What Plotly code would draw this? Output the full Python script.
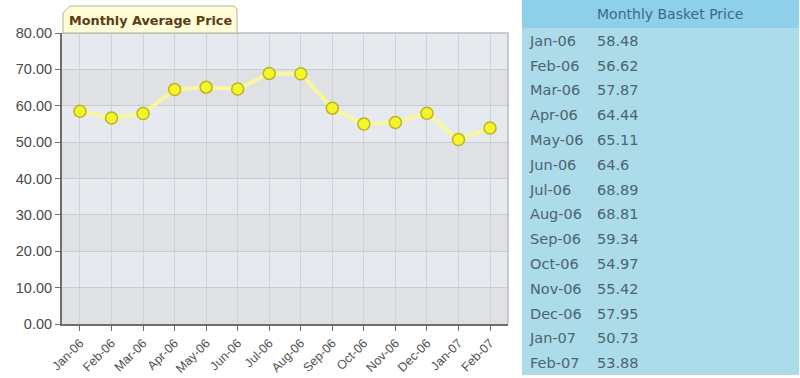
import plotly.graph_objects as go

months = ["Jan-06", "Feb-06", "Mar-06", "Apr-06", "May-06", "Jun-06", "Jul-06",
          "Aug-06", "Sep-06", "Oct-06", "Nov-06", "Dec-06", "Jan-07", "Feb-07"]
prices = [58.48, 56.62, 57.87, 64.44, 65.11, 64.6, 68.89,
          68.81, 59.34, 54.97, 55.42, 57.95, 50.73, 53.88]
price_labels = ["58.48", "56.62", "57.87", "64.44", "65.11", "64.6", "68.89",
                "68.81", "59.34", "54.97", "55.42", "57.95", "50.73", "53.88"]
y_ticks = [0, 10, 20, 30, 40, 50, 60, 70, 80]

W, H = 800, 378


def px(x):
    return x / W


def py(y):
    return 1 - y / H


fig = go.Figure()

fig.add_trace(go.Scatter(
    x=list(range(len(months))), y=prices, mode="lines+markers",
    line=dict(color="#f7f7a0", width=4),
    marker=dict(size=12, color="#f5f52c", line=dict(color="#bdb51c", width=1.5)),
    showlegend=False, hoverinfo="skip"))

# alternating bands
for i in range(0, 80, 10):
    col = "#dfe1e5" if (i // 10) % 2 == 0 else "#e6e9ee"
    fig.add_shape(type="rect", xref="x", yref="y", x0=-0.57, x1=13.57, y0=i, y1=i + 10,
                  fillcolor=col, line_width=0, layer="below")

fig.add_trace(go.Table(
    domain=dict(x=[px(522), px(798)], y=[0, 1]),
    columnwidth=[67, 209],
    header=dict(values=["", "Monthly Basket Price"], fill_color="#8ecfea",
                line_color="#8ecfea", align="left", height=27,
                font=dict(family="DejaVu Sans", size=14, color="#3d6a80")),
    cells=dict(values=[months, price_labels], fill_color="#acdbea",
               line_color="#acdbea", align="left", height=24.8,
               font=dict(family="DejaVu Sans", size=14.5, color="#4b6470"))))

fig.update_layout(
    width=W, height=H, margin=dict(l=0, r=0, t=0, b=0),
    paper_bgcolor="white", plot_bgcolor="#e4e7ec",
    xaxis=dict(domain=[px(62), px(508)], range=[-0.57, 13.57],
               tickmode="array", tickvals=list(range(len(months))), ticktext=months,
               tickangle=-45, tickfont=dict(family="Arial", size=12.5, color="#505050"),
               showgrid=True, gridcolor="#cdd3da", gridwidth=1,
               showline=True, linecolor="#6e6e6e", linewidth=2,
               ticks="outside", ticklen=5, tickcolor="#6e6e6e", zeroline=False,
               automargin=False),
    yaxis=dict(domain=[py(324), py(33)], range=[0, 80],
               tickmode="array", tickvals=y_ticks, tickformat=".2f",
               tickfont=dict(family="Arial", size=14.5, color="#4a4a4a"),
               showgrid=True, gridcolor="#c9cdd3", gridwidth=1,
               showline=True, linecolor="#6e6e6e", linewidth=2,
               ticks="outside", ticklen=5, tickcolor="#6e6e6e", zeroline=False,
               automargin=False),
)

# top/right frame of the plot area
fig.add_shape(type="path", xref="paper", yref="paper",
              path=f"M {px(62)},{py(33)} L {px(508)},{py(33)} L {px(508)},{py(324)}",
              line=dict(color="#b9bcc0", width=1.5))

# title tab
fig.add_shape(type="path", xref="paper", yref="paper",
              path=(f"M {px(63)},{py(33)} L {px(63)},{py(13)} L {px(70)},{py(6)} "
                    f"L {px(234)},{py(6)} L {px(237)},{py(9)} L {px(237)},{py(33)} Z"),
              fillcolor="#fffcd8", line=dict(color="#b8b393", width=1))
fig.add_annotation(xref="paper", yref="paper", x=px(150), y=py(20),
                   xanchor="center", yanchor="middle", showarrow=False,
                   text="<b>Monthly Average Price</b>",
                   font=dict(family="DejaVu Sans", size=12.8, color="#5a3d14"))

fig.write_html("out.html", config={"displayModeBar": False},
               post_script="document.body.style.margin='0';document.body.style.overflow='hidden';")
